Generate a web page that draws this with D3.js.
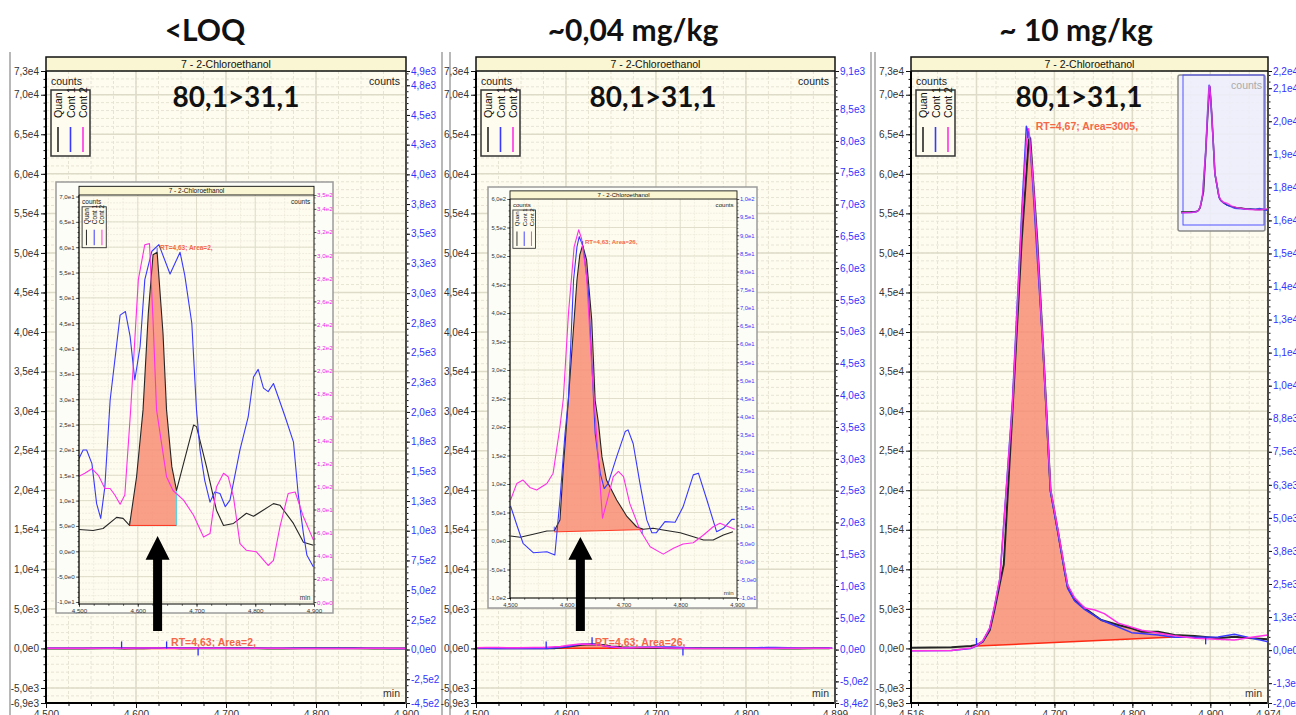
<!DOCTYPE html>
<meta charset="utf-8">
<style>
body { margin: 0; background: #fff; overflow: hidden; }
</style>
<svg width="1296" height="715"></svg>
<script src="https://d3js.org/d3.v7.min.js"></script>
<script>
var titles = ['<LOQ', '~0,04 mg/kg', '~ 10 mg/kg'];
var compound = '7 - 2-Chloroethanol';
var transition = '80,1>31,1';
var traceNames = ['Quan', 'Cont 1', 'Cont 2'];
var traceColors = ['#262626', '#3838ff', '#ff30e6'];

// <LOQ sample, [min, counts]
var loqQuan = [[4.500,4.3],[4.524,4.1],[4.541,4.5],[4.564,6.7],[4.575,6.5],[4.586,5.1],[4.598,14.7],[4.609,27.9],[4.618,47],[4.626,58.5],[4.633,59],[4.643,43],[4.649,27.9],[4.658,16.7],[4.666,12],[4.695,24.9],[4.700,24.6],[4.717,16.7],[4.734,8.1],[4.746,5.1],[4.763,5.5],[4.785,7.5],[4.797,6.9],[4.831,9.4],[4.842,9.1],[4.865,5.5],[4.882,1.8],[4.899,1.2]];
var loqCont1 = [[4.500,18.3],[4.507,20],[4.513,20],[4.522,17.3],[4.530,9.4],[4.537,6.5],[4.544,12.7],[4.553,29.8],[4.570,46.6],[4.579,47.3],[4.587,42.4],[4.595,33.8],[4.604,40.4],[4.612,53.6],[4.624,59.2],[4.636,60.5],[4.655,54.7],[4.672,59],[4.680,54.5],[4.692,45],[4.700,27.9],[4.706,20],[4.714,14],[4.723,9.7],[4.731,11.7],[4.740,11.4],[4.749,8.8],[4.757,10.1],[4.774,20],[4.788,26.5],[4.797,34.4],[4.805,35.9],[4.814,32.2],[4.822,31.5],[4.831,33.1],[4.839,30.5],[4.851,26.5],[4.865,21.6],[4.873,11.4],[4.882,3.5],[4.888,-0.8],[4.899,-3.1]];
var loqCont2 = [[4.500,14.8],[4.510,15.4],[4.522,16.3],[4.533,15],[4.544,12.4],[4.553,12.4],[4.561,11.1],[4.570,9.3],[4.578,11.1],[4.588,28],[4.601,53.6],[4.612,60.5],[4.620,60.7],[4.626,45.7],[4.632,27.9],[4.649,14.7],[4.660,12],[4.678,10.1],[4.695,7.1],[4.712,2.8],[4.723,3.5],[4.734,12.7],[4.746,15.4],[4.754,14.7],[4.763,10.7],[4.774,1.5],[4.785,0.2],[4.802,-0.1],[4.822,-2.8],[4.831,-1.8],[4.842,4.8],[4.856,11.4],[4.868,11.7],[4.882,6.8],[4.899,2.2]];
var loqPeak = {t0: 4.586, t1: 4.666, b0: 5.1, b1: 5.1};
var loqNote = 'RT=4,63; Area=2,';

// ~0,04 mg/kg sample
var midQuan = [[4.501,8.8],[4.518,6.5],[4.541,11.7],[4.565,17.5],[4.578,18],[4.588,36.8],[4.594,130],[4.603,250],[4.618,458],[4.623,502],[4.628,519],[4.635,493],[4.644,388],[4.650,247],[4.656,206],[4.662,148],[4.670,107],[4.688,72],[4.706,43],[4.723,25],[4.735,20.5],[4.752,22.3],[4.770,19.3],[4.800,14.6],[4.823,7.5],[4.841,1.8],[4.858,1.8],[4.876,10.5],[4.893,16.3]];
var midCont1 = [[4.501,61.4],[4.512,28],[4.523,-4],[4.541,-20.5],[4.565,-18.8],[4.579,-24.6],[4.588,72],[4.597,189],[4.603,250],[4.612,458],[4.618,516],[4.622,534],[4.629,516],[4.638,440],[4.644,318],[4.650,189],[4.659,119],[4.666,92],[4.673,101],[4.688,148],[4.703,192],[4.708,195],[4.717,171],[4.729,101],[4.741,37],[4.750,14.6],[4.758,14.6],[4.773,34],[4.791,32.8],[4.805,60],[4.823,116],[4.832,119],[4.847,72],[4.864,16.3],[4.876,22.3],[4.891,38],[4.896,38]];
var midCont2 = [[4.501,72],[4.512,101],[4.523,107],[4.535,94],[4.547,89.5],[4.565,101],[4.576,119],[4.588,200],[4.594,250],[4.603,399],[4.613,516],[4.621,546],[4.626,531],[4.635,464],[4.644,306],[4.663,40],[4.673,78],[4.682,113],[4.691,122],[4.700,113],[4.711,66],[4.729,19.3],[4.747,-10],[4.770,-23],[4.788,-12.8],[4.805,-5.3],[4.823,-3],[4.841,10.5],[4.858,25],[4.870,31],[4.885,25],[4.896,20.5]];
var midPeak = {t0: 4.578, t1: 4.735, b0: 16, b1: 20};
var midNote = 'RT=4,63; Area=26,';

// ~10 mg/kg sample
var hiQuan = [[4.516,90],[4.568,140],[4.593,300],[4.600,430],[4.608,850],[4.617,2300],[4.623,4850],[4.630,8230],[4.635,10600],[4.646,29700],[4.658,51600],[4.667,64300],[4.669,64500],[4.673,58800],[4.678,51600],[4.685,39000],[4.695,20000],[4.705,14550],[4.713,9910],[4.717,7800],[4.726,6120],[4.739,5070],[4.760,3590],[4.782,2960],[4.799,2540],[4.812,2110],[4.833,2110],[4.854,1690],[4.880,1570],[4.910,1280],[4.931,1480],[4.953,1280],[4.974,1150]];
var hiCont1 = [[4.516,-300],[4.568,-250],[4.593,0],[4.600,300],[4.608,900],[4.617,2500],[4.623,5200],[4.630,8800],[4.646,31000],[4.658,55000],[4.664,66000],[4.668,64800],[4.672,59000],[4.677,51000],[4.685,38500],[4.695,19800],[4.705,14300],[4.713,9800],[4.717,7600],[4.726,6000],[4.739,4900],[4.760,3600],[4.782,2700],[4.799,1990],[4.812,1900],[4.833,1700],[4.854,1400],[4.880,1400],[4.910,1450],[4.931,1800],[4.953,1300],[4.974,850]];
var hiCont2 = [[4.516,-300],[4.568,-250],[4.593,50],[4.600,350],[4.608,950],[4.617,2600],[4.623,5300],[4.630,8900],[4.646,30500],[4.658,54000],[4.664,64000],[4.667,65700],[4.672,60000],[4.678,51000],[4.685,38800],[4.695,20200],[4.705,14700],[4.713,10200],[4.717,8000],[4.726,6400],[4.739,5100],[4.752,4850],[4.764,4400],[4.782,3200],[4.812,2300],[4.854,1600],[4.880,1300],[4.931,1060],[4.953,1400],[4.974,1700]];
var hiPeak = {t0: 4.600, t1: 4.854, b0: 300, b1: 1450};
var hiNote = 'RT=4,67; Area=3005,';

// axis ticks
var mainLeftTicks = [-6900,-5000,0,5000,10000,15000,20000,25000,30000,35000,40000,45000,50000,55000,60000,65000,70000,73000];
var loqRightTicks = [-450].concat(d3.range(-250, 4751, 250), [4870]);
var midRightTicks = [-840].concat(d3.range(-500, 8501, 500), [9100]);
var hiRightTicks = [-2000].concat(d3.range(-1250, 21251, 1250), [21900]);
var loqTimeTicks = [4.5, 4.6, 4.7, 4.8, 4.9];
var midTimeTicks = [4.5, 4.6, 4.7, 4.8, 4.899];
var hiTimeTicks = [4.516, 4.6, 4.7, 4.8, 4.9, 4.974];
var inset1LeftTicks = d3.range(-10, 71, 5);
var inset1RightTicks = d3.range(0, 341, 20).concat([352]);
var inset2LeftTicks = d3.range(-100, 601, 50);
var inset2RightTicks = d3.range(-10, 101, 5);

// integration markers [min, counts, direction]
var loqMarks = [[4.584,0,1],[4.634,0,1],[4.669,0,-1]];
var loqInsetMarks = [[4.586,5.1,1],[4.633,59,1]];
var midMarks = [[4.578,0,1],[4.629,520,1],[4.730,0,-1]];
var midInsetMarks = [[4.578,18,1],[4.628,519,1],[4.733,20,-1]];
var hiMarks = [[4.600,430,1],[4.666,64500,1],[4.894,1400,-1]];

var svg = d3.select('svg');
var FONT = "'Liberation Sans', Arial, sans-serif";
var clipN = 0;

function sci(v) { return v.toExponential(1).replace('.', ',').replace('e+', 'e'); }
function minFmt(v) { return v.toFixed(3).replace('.', ','); }
function steps(d, s) {
    var out = [], i = Math.ceil(d[0] / s - 1e-6);
    for (; i * s <= d[1] + 1e-9; i++) out.push(+(i * s).toFixed(6));
    return out;
}

function chrom(c) {
    var k = c.k, g = svg.append('g');
    var x0 = c.x, y0 = c.y, x1 = c.x + c.w, y1 = c.y + c.h;
    var xs = d3.scaleLinear().domain(c.xd).range([x0, x1]);
    var yl = d3.scaleLinear().domain(c.yl).range([y1, y0]);
    var yr = d3.scaleLinear().domain(c.yr).range([y1, y0]);
    var sw = Math.max(0.6, k);

    if (c.frame) {
        g.append('rect')
            .attr('x', c.frame[0]).attr('y', c.frame[1]).attr('width', c.frame[2]).attr('height', c.frame[3])
            .attr('fill', '#fdfdf7').attr('stroke', '#9b9b9b').attr('stroke-width', 1.5);
    }
    g.append('rect').attr('x', x0).attr('y', y0).attr('width', c.w).attr('height', c.h).attr('fill', '#fefcef');

    // grid
    function vgrid(vals, col, w, dash) {
        g.append('g').selectAll('line').data(vals).enter().append('line')
            .attr('x1', xs).attr('x2', xs).attr('y1', y0).attr('y2', y1)
            .attr('stroke', col).attr('stroke-width', w).attr('stroke-dasharray', dash);
    }
    function hgrid(vals, col, w, dash) {
        g.append('g').selectAll('line').data(vals).enter().append('line')
            .attr('x1', x0).attr('x2', x1).attr('y1', yl).attr('y2', yl)
            .attr('stroke', col).attr('stroke-width', w).attr('stroke-dasharray', dash);
    }
    var dash = (3 * k) + ',' + (2 * k);
    vgrid(steps(c.xd, c.xMinor), '#e7e4d4', sw, dash);
    hgrid(steps(c.yl, c.gMinor), '#e7e4d4', sw, dash);
    vgrid(steps(c.xd, c.xMajor), '#dedbc8', 1.5 * k, null);
    hgrid(steps(c.yl, c.lMajor), '#dedbc8', 1.5 * k, null);

    // traces
    var id = 'clip' + (clipN++);
    g.append('clipPath').attr('id', id).append('rect')
        .attr('x', x0).attr('y', y0).attr('width', c.w).attr('height', c.h);
    var tr = g.append('g').attr('clip-path', 'url(#' + id + ')');

    var p = c.peak, quan = c.series[0];
    var base = function (t) { return p.b0 + (p.b1 - p.b0) * (t - p.t0) / (p.t1 - p.t0); };
    var seg = quan.filter(function (d) { return d[0] >= p.t0 - 1e-9 && d[0] <= p.t1 + 1e-9; });
    tr.append('path').datum(seg)
        .attr('fill', '#f88d74').attr('fill-opacity', 0.85)
        .attr('d', d3.area().x(function (d) { return xs(d[0]); })
            .y0(function (d) { return yl(base(d[0])); })
            .y1(function (d) { return yl(d[1]); }));
    tr.append('line')
        .attr('x1', xs(p.t0)).attr('x2', xs(p.t1)).attr('y1', yl(p.b0)).attr('y2', yl(p.b1))
        .attr('stroke', '#ff2a14').attr('stroke-width', 1.5 * sw);
    tr.append('line')
        .attr('x1', xs(p.t1)).attr('x2', xs(p.t1)).attr('y1', yl(p.b1)).attr('y2', yl(seg[seg.length - 1][1]))
        .attr('stroke', '#20d8ee').attr('stroke-width', 1.2 * sw);

    var line = d3.line().x(function (d) { return xs(d[0]); }).y(function (d) { return yl(d[1]); });
    c.series.forEach(function (s, i) {
        tr.append('path').datum(s).attr('d', line).attr('fill', 'none')
            .attr('stroke', traceColors[i]).attr('stroke-width', c.lw[i])
            .attr('stroke-linejoin', 'round');
    });

    c.marks.forEach(function (m) {
        var yy = yl(m[1]);
        tr.append('line').attr('x1', xs(m[0])).attr('x2', xs(m[0]))
            .attr('y1', yy).attr('y2', yy - m[2] * 7 * k)
            .attr('stroke', '#2b2bff').attr('stroke-width', 1.3 * sw);
    });

    g.append('text').attr('x', xs(c.note.t)).attr('y', yl(c.note.v))
        .attr('font-family', FONT).attr('font-weight', 'bold').attr('font-size', 10.5 * k)
        .attr('fill', '#f4684a').text(c.note.text);

    // axes
    function styleAxis(a, color, fs) {
        a.select('.domain').remove();
        a.selectAll('line').attr('stroke', '#111').attr('stroke-width', sw);
        a.selectAll('text').attr('fill', color).attr('font-size', fs).attr('font-family', FONT);
    }
    var la = g.append('g').attr('transform', 'translate(' + x0 + ',0)')
        .call(d3.axisLeft(yl).tickValues(c.lTicks).tickFormat(sci).tickSize(5 * k).tickPadding(2 * k));
    styleAxis(la, '#333', 10 * k);
    var lm = g.append('g').attr('transform', 'translate(' + x0 + ',0)')
        .call(d3.axisLeft(yl).tickValues(steps(c.yl, c.lMinor)).tickFormat(function () { return ''; }).tickSize(2.5 * k));
    styleAxis(lm, '#333', 0);

    var ra = g.append('g').attr('transform', 'translate(' + x1 + ',0)')
        .call(d3.axisRight(yr).tickValues(c.rTicks).tickFormat(sci).tickSize(4 * k).tickPadding(1 * k));
    styleAxis(ra, c.rColor, 10 * k);
    var rm = g.append('g').attr('transform', 'translate(' + x1 + ',0)')
        .call(d3.axisRight(yr).tickValues(steps(c.yr, c.rMinor)).tickFormat(function () { return ''; }).tickSize(2.5 * k));
    styleAxis(rm, '#333', 0);

    var ba = g.append('g').attr('transform', 'translate(0,' + y1 + ')')
        .call(d3.axisBottom(xs).tickValues(c.xTicks).tickFormat(minFmt).tickSize(5 * k).tickPadding(3 * k));
    styleAxis(ba, '#333', 10 * k);
    var bm = g.append('g').attr('transform', 'translate(0,' + y1 + ')')
        .call(d3.axisBottom(xs).tickValues(steps(c.xd, c.xMinor)).tickFormat(function () { return ''; }).tickSize(3 * k));
    styleAxis(bm, '#333', 0);

    g.append('line').attr('x1', x0).attr('x2', x0).attr('y1', y0).attr('y2', y1 + 1)
        .attr('stroke', '#000').attr('stroke-width', 2 * k);
    g.append('line').attr('x1', x0).attr('x2', x1).attr('y1', y1).attr('y2', y1)
        .attr('stroke', '#000').attr('stroke-width', 2 * k);
    g.append('line').attr('x1', x1).attr('x2', x1).attr('y1', y0).attr('y2', y1 + 1)
        .attr('stroke', '#4a4a4a').attr('stroke-width', 2 * k);

    // header
    var hh = 14 * k;
    g.append('rect').attr('x', x0).attr('y', y0 - hh).attr('width', c.w).attr('height', hh)
        .attr('fill', '#faf5d2').attr('stroke', '#111').attr('stroke-width', 1.5 * k);
    g.append('text').attr('x', (x0 + x1) / 2).attr('y', y0 - 3.5 * k).attr('text-anchor', 'middle')
        .attr('font-family', FONT).attr('font-size', 10.5 * k).attr('fill', '#111').text(compound);

    g.append('text').attr('x', x0 + 5 * k).attr('y', y0 + 14 * k)
        .attr('font-family', FONT).attr('font-size', 10.5 * k).attr('fill', '#222').text('counts');
    if (c.countsRight !== false) {
        g.append('text').attr('x', x1 - 6 * k).attr('y', y0 + 14 * k).attr('text-anchor', 'end')
            .attr('font-family', FONT).attr('font-size', 10.5 * k).attr('fill', '#222').text('counts');
    }
    g.append('text').attr('x', x1 - 6 * k).attr('y', y1 - 6 * k).attr('text-anchor', 'end')
        .attr('font-family', FONT).attr('font-size', 10.5 * k).attr('fill', '#333').text('min');

    // legend
    var lg = g.append('g').attr('transform', 'translate(' + (x0 + 5 * k) + ',' + (y0 + 19 * k) + ') scale(' + k + ')');
    lg.append('rect').attr('width', 39).attr('height', 66)
        .attr('fill', '#fefcef').attr('stroke', '#333').attr('stroke-width', 1.5);
    traceNames.forEach(function (n, i) {
        var cx = 7 + i * 12.5;
        lg.append('text').attr('transform', 'translate(' + (cx + 4) + ',28) rotate(-90)')
            .attr('font-family', FONT).attr('font-size', 10.5).attr('fill', '#111').text(n);
        lg.append('line').attr('x1', cx).attr('x2', cx).attr('y1', 37).attr('y2', 62)
            .attr('stroke', traceColors[i]).attr('stroke-width', 1.6);
    });

    return {xs: xs, yl: yl};
}

function arrow(sc, a) {
    var cx = sc.xs(a.t), tip = sc.yl(a.tip), b = sc.yl(a.base), e = sc.yl(a.end);
    var pts = [[cx, tip], [cx + 12, b], [cx + 4.5, b], [cx + 4.5, e], [cx - 4.5, e], [cx - 4.5, b], [cx - 12, b]];
    svg.append('polygon').attr('points', pts.map(function (q) { return q.join(','); }).join(' '))
        .attr('fill', '#000');
}

function thumb(t) {
    var g = svg.append('g');
    var xs = d3.scaleLinear().domain(t.xd).range([t.x, t.x + t.w]);
    var ys = d3.scaleLinear().domain(t.yd).range([t.y + t.h - 17, t.y + 2]);
    g.append('rect').attr('x', t.x).attr('y', t.y).attr('width', t.w).attr('height', t.h)
        .attr('rx', 2).attr('fill', '#ecedfb').attr('fill-opacity', 0.9)
        .attr('stroke', '#8a8a8a').attr('stroke-width', 1.5);
    g.append('rect').attr('x', t.x + 5).attr('y', t.y).attr('width', t.w - 6).attr('height', t.h - 6)
        .attr('fill', 'none').attr('stroke', '#5252ff').attr('stroke-width', 1);
    g.append('text').attr('x', t.x + t.w - 3).attr('y', t.y + 14).attr('text-anchor', 'end')
        .attr('font-family', FONT).attr('font-size', 10.5).attr('fill', '#aaa').text('counts');
    var line = d3.line().x(function (d) { return xs(d[0]); }).y(function (d) { return ys(d[1]); });
    t.series.forEach(function (s, i) {
        g.append('path').datum(s).attr('d', line).attr('fill', 'none')
            .attr('stroke', traceColors[i]).attr('stroke-width', 1.5).attr('stroke-opacity', i === 0 ? 1 : 0.8);
    });
}

// section titles
var titleX = [205, 633, 1076];
titles.forEach(function (t, i) {
    svg.append('text').attr('x', titleX[i]).attr('y', 41).attr('text-anchor', 'middle')
        .attr('font-family', 'Lato, sans-serif').attr('font-weight', 'bold').attr('font-size', 30)
        .attr('fill', '#111').text(t);
});

// panel separators
[10, 442, 450, 871, 875].forEach(function (x) {
    svg.append('line').attr('x1', x).attr('x2', x).attr('y1', 52).attr('y2', 715)
        .attr('stroke', '#b8b8b8').attr('stroke-width', 2);
});

var mainBase = {k: 1, y: 71, h: 632, yl: [-6900, 73000], lTicks: mainLeftTicks, lMajor: 5000, lMinor: 1000, gMinor: 1000,
    xMajor: 0.1, xMinor: 0.025, rColor: '#3333ff', lw: [2, 1.5, 1.5]};

var p1 = chrom(Object.assign({}, mainBase, {
    x: 46, w: 360, xd: [4.5, 4.9], xTicks: loqTimeTicks,
    yr: [-450, 4870], rTicks: loqRightTicks, rMinor: 50,
    series: [loqQuan, loqCont1, loqCont2], peak: loqPeak, marks: loqMarks,
    note: {t: 4.639, v: 250, text: loqNote}
}));
var p2 = chrom(Object.assign({}, mainBase, {
    x: 476, w: 359, xd: [4.5, 4.899], xTicks: midTimeTicks,
    yr: [-840, 9100], rTicks: midRightTicks, rMinor: 100,
    series: [midQuan, midCont1, midCont2], peak: midPeak, marks: midMarks,
    note: {t: 4.632, v: 250, text: midNote}
}));
var p3 = chrom(Object.assign({}, mainBase, {
    x: 911, w: 357, xd: [4.516, 4.974], xTicks: hiTimeTicks,
    yr: [-2000, 21900], rTicks: hiRightTicks, rMinor: 250,
    series: [hiQuan, hiCont1, hiCont2], peak: hiPeak, marks: hiMarks,
    note: {t: 4.676, v: 65500, text: hiNote}, countsRight: false
}));

// zoomed insets of the two low samples
chrom({k: 0.62, x: 79, y: 195, w: 235, h: 409, frame: [56, 182, 277, 431],
    xd: [4.5, 4.9], xTicks: loqTimeTicks, xMajor: 0.1, xMinor: 0.025,
    yl: [-10.4, 70.3], lTicks: inset1LeftTicks, lMajor: 5, lMinor: 1, gMinor: 1.25,
    yr: [-1.7, 352], rTicks: inset1RightTicks, rMinor: 5, rColor: '#ee22ee', lw: [1.1, 1.1, 1.1],
    series: [loqQuan, loqCont1, loqCont2], peak: loqPeak, marks: loqInsetMarks,
    note: {t: 4.638, v: 59.5, text: loqNote}
});
chrom({k: 0.58, x: 510, y: 199, w: 227, h: 399, frame: [488, 187, 269, 421],
    xd: [4.5, 4.9], xTicks: loqTimeTicks, xMajor: 0.1, xMinor: 0.025,
    yl: [-100, 600], lTicks: inset2LeftTicks, lMajor: 50, lMinor: 10, gMinor: 12.5,
    yr: [-10, 100], rTicks: inset2RightTicks, rMinor: 1, rColor: '#3333ff', lw: [1.1, 1.1, 1.1],
    series: [midQuan, midCont1, midCont2], peak: midPeak, marks: midInsetMarks,
    note: {t: 4.632, v: 521, text: midNote}
});

arrow(p1, {t: 4.624, tip: 14200, base: 11200, end: 2200});
arrow(p2, {t: 4.616, tip: 14100, base: 11200, end: 2200});

thumb({x: 1178, y: 75, w: 87, h: 156, xd: [4.5, 4.96], yd: [-1000, 70000],
    series: [hiQuan, hiCont1, hiCont2]});

// transition labels
[p1, p2, p3].forEach(function (p, i) {
    var r = p.xs.range();
    var cx = [236, 653, 1079][i];
    svg.append('text').attr('x', cx).attr('y', 107).attr('text-anchor', 'middle')
        .attr('font-family', 'Lato, sans-serif').attr('font-weight', 'bold').attr('font-size', 28)
        .attr('fill', '#111').text(transition);
});
</script>
